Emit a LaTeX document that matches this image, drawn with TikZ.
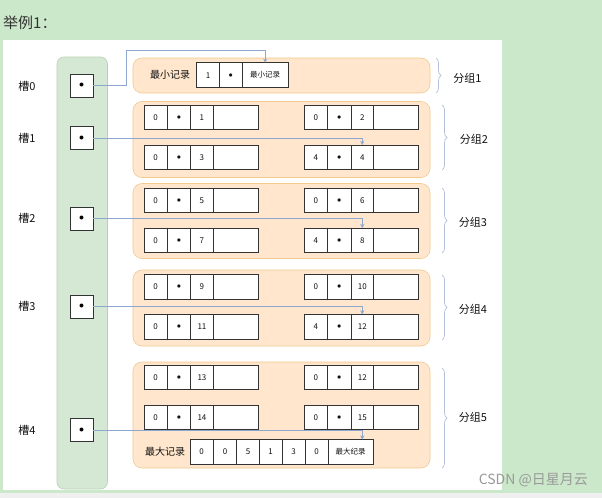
\documentclass[tikz,border=0pt]{standalone}
\usepackage{fontspec}
\setmainfont{Noto Sans CJK SC}
\usetikzlibrary{arrows.meta,decorations.pathreplacing,calc}
\definecolor{bggreen}{HTML}{CCE8CA}
\definecolor{colfill}{HTML}{D5E8D4}
\definecolor{colline}{HTML}{B7D2B3}
\definecolor{grpfill}{HTML}{FFE6CC}
\definecolor{grpline}{HTML}{F2C98E}
\definecolor{arrcol}{HTML}{8FA6CF}
\definecolor{bracecol}{HTML}{B3C0DA}
\definecolor{txt}{HTML}{111111}
\newcommand\recfour[6]{%
  \node[cell, minimum width=23.3pt, anchor=north west] (#1-1) at (#2,#3) {#4};
  \node[cell, minimum width=23.3pt, anchor=north west] (#1-2) at (#1-1.north east) {#5};
  \node[cell, minimum width=22.7pt, anchor=north west] (#1-3) at (#1-2.north east) {#6};
  \node[cell, minimum width=44.7pt, anchor=north west] (#1-4) at (#1-3.north east) {};
}
\tikzset{
  cell/.style={draw=black!80, fill=white, line width=0.6pt, minimum height=24.5pt,
    inner sep=0pt, outer sep=0pt, font=\fontsize{8}{9}\selectfont, text=txt},
  slotbox/.style={draw=black!80, fill=white, line width=0.7pt, minimum width=23pt,
    minimum height=23pt, inner sep=0pt, outer sep=0pt},
  grpbox/.style={draw=grpline, fill=grpfill, line width=0.6pt, rounded corners=9pt,
    minimum width=297pt, inner sep=0pt, outer sep=0pt, anchor=north west},
  lbl/.style={font=\fontsize{11}{12}\selectfont, text=txt, inner sep=0pt},
  link/.style={draw=arrcol, line width=0.6pt, -{Stealth[length=4pt,width=4pt]}},
  brc/.style={draw=bracecol, line width=0.7pt, decorate,
    decoration={brace, amplitude=5pt}}
}
\begin{document}
\begin{tikzpicture}[x=1pt, y=-1pt]
\useasboundingbox (0,0) rectangle (602,498);
\fill[bggreen] (0,0) rectangle (602,498);
\fill[white] (3,39.5) rectangle (501.5,490);
\fill[black!6] (0,492.5) rectangle (602,498);
\node[anchor=west, inner sep=0pt, font=\fontsize{15}{16}\selectfont, text=black!80] (title) at (3,23) {举例1：};

% slot column
\node[draw=colline, fill=colfill, line width=0.6pt, rounded corners=7pt, anchor=north west,
  minimum width=50.5pt, minimum height=432pt, inner sep=0pt, outer sep=0pt] (column) at (57,57) {};

% slots
\node[slotbox] (s0) at (81.5,85.5) {\fontsize{10}{10}\selectfont$\bullet$};
\node[slotbox] (s1) at (81.5,138) {\fontsize{10}{10}\selectfont$\bullet$};
\node[slotbox] (s2) at (81.5,218.5) {\fontsize{10}{10}\selectfont$\bullet$};
\node[slotbox] (s3) at (81.5,306.5) {\fontsize{10}{10}\selectfont$\bullet$};
\node[slotbox] (s4) at (81.5,430) {\fontsize{10}{10}\selectfont$\bullet$};
\node[lbl] (l0) at (27,86) {槽0};
\node[lbl] (l1) at (27,138) {槽1};
\node[lbl] (l2) at (27,218) {槽2};
\node[lbl] (l3) at (27,306) {槽3};
\node[lbl] (l4) at (27,430) {槽4};

% groups
\node[grpbox, minimum height=35pt] (g1) at (133,58) {};
\node[grpbox, minimum height=76pt] (g2) at (133,101.5) {};
\node[grpbox, minimum height=75pt] (g3) at (133,183.5) {};
\node[grpbox, minimum height=76pt] (g4) at (133,270) {};
\node[grpbox, minimum height=106pt] (g5) at (133,362) {};

% group 1
\node[lbl, font=\fontsize{10}{11}\selectfont] (minl) at (170,75) {最小记录};
\node[cell, minimum width=22.6pt, minimum height=25pt, anchor=north west] (m1-1) at (196.7,62.7) {1};
\node[cell, minimum width=23pt, minimum height=25pt, anchor=north west] (m1-2) at (m1-1.north east) {$\bullet$};
\node[cell, minimum width=45.7pt, minimum height=25pt, anchor=north west, font=\fontsize{7.5}{8}\selectfont] (m1-3) at (m1-2.north east) {最小记录};

% group 2
\recfour{g2a}{144}{105}{0}{$\bullet$}{1}
\recfour{g2b}{304.3}{105}{0}{$\bullet$}{2}
\recfour{g2c}{144}{145}{0}{$\bullet$}{3}
\recfour{g2d}{304.3}{145}{4}{$\bullet$}{4}
% group 3
\recfour{g3a}{144}{188}{0}{$\bullet$}{5}
\recfour{g3b}{304.3}{188}{0}{$\bullet$}{6}
\recfour{g3c}{144}{228}{0}{$\bullet$}{7}
\recfour{g3d}{304.3}{228}{4}{$\bullet$}{8}
% group 4
\recfour{g4a}{144}{274.3}{0}{$\bullet$}{9}
\recfour{g4b}{304.3}{274.3}{0}{$\bullet$}{10}
\recfour{g4c}{144}{314.3}{0}{$\bullet$}{11}
\recfour{g4d}{304.3}{314.3}{4}{$\bullet$}{12}
% group 5
\recfour{g5a}{144}{365}{0}{$\bullet$}{13}
\recfour{g5b}{304.3}{365}{0}{$\bullet$}{12}
\recfour{g5c}{144}{405}{0}{$\bullet$}{14}
\recfour{g5d}{304.3}{405}{0}{$\bullet$}{15}
\node[lbl, font=\fontsize{10}{11}\selectfont] (maxl) at (165,451.7) {最大记录};
\node[cell, minimum width=23.3pt, anchor=north west] (x-1) at (190,439.5) {0};
\node[cell, minimum width=23.4pt, anchor=north west] (x-2) at (x-1.north east) {0};
\node[cell, minimum width=22.6pt, anchor=north west] (x-3) at (x-2.north east) {5};
\node[cell, minimum width=22.7pt, anchor=north west] (x-4) at (x-3.north east) {1};
\node[cell, minimum width=23pt, anchor=north west] (x-5) at (x-4.north east) {3};
\node[cell, minimum width=23pt, anchor=north west] (x-6) at (x-5.north east) {0};
\node[cell, minimum width=45.3pt, anchor=north west, font=\fontsize{7.5}{8}\selectfont] (x-7) at (x-6.north east) {最大纪录};

% links
\draw[link] (s0.east) -- ++(33.5,0) |- ($(m1-3.north)+(0,-12.5)$) -- (m1-3.north);
\draw[link] (s1.east) -| (g2d-3.north);
\draw[link] (s2.east) -| (g3d-3.north);
\draw[link] (s3.east) -| (g4d-3.north);
\coordinate (xin) at (g5d-3.center |- x-7.north);
\draw[link] (s4.east) -| (xin);

% braces
\draw[brc] (436,58) -- (436,93);
\draw[brc] (442,105) -- (442,170);
\draw[brc] (442,188) -- (442,253);
\draw[brc] (442,275) -- (442,340);
\draw[brc] (442,368) -- (442,468);
\node[lbl] (f1) at (467.5,78) {分组1};
\node[lbl] (f2) at (474,139) {分组2};
\node[lbl] (f3) at (473,222) {分组3};
\node[lbl] (f4) at (473,309) {分组4};
\node[lbl] (f5) at (473,417) {分组5};

\node[anchor=east, inner sep=0pt, font=\fontsize{14}{15}\selectfont, text=black!40] (wm) at (588,480) {CSDN @日星月云};
\end{tikzpicture}
\end{document}
